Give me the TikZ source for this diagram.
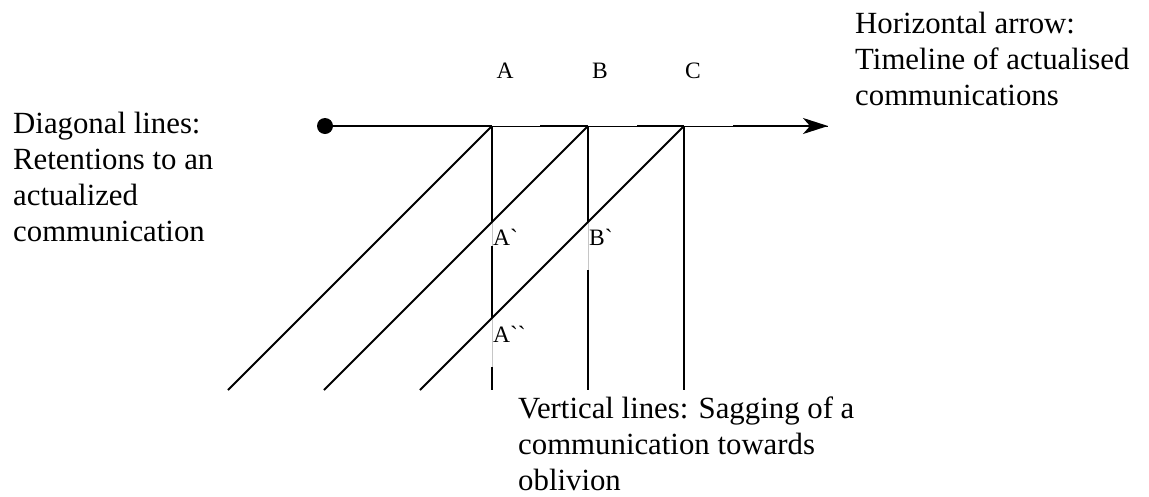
\documentclass[tikz,border=0pt]{standalone}
\usepackage{fontspec}
\setmainfont{Liberation Serif}
\usetikzlibrary{arrows.meta}
\newcommand\captxt{\fontsize{30.8}{36}\selectfont}
\newcommand\lbltxt{\fontsize{23.5}{27}\selectfont}
\tikzset{
  thickln/.style={line width=2pt, line cap=butt},
  thinln/.style={line width=0.9pt, black},
  gapln/.style={line width=0.8pt, gray!45},
  caption/.style={font=\captxt, align=left, anchor=north west, inner sep=0pt},
  lbl/.style={font=\lbltxt, inner sep=0pt},
}
\begin{document}
\begin{tikzpicture}[x=1pt,y=-1pt]
\useasboundingbox (0,0) rectangle (1149,496);
% key points
\coordinate (dot) at (325,126);
\coordinate (A) at (492,126);
\coordinate (B) at (588,126);
\coordinate (C) at (684,126);
\coordinate (arr) at (828,126);
\coordinate (A1) at (492,222);
\coordinate (B1) at (588,222);
\coordinate (A2) at (492,318);
\coordinate (A1e) at (492,246);
\coordinate (B1e) at (588,270);
\coordinate (A2e) at (492,367);
\coordinate (Abot) at (492,390);
\coordinate (Bbot) at (588,390);
\coordinate (Cbot) at (684,390);
\coordinate (dA) at (228,390);
\coordinate (dB) at (324,390);
\coordinate (dC) at (420,390);
\coordinate (hA) at (540,126);
\coordinate (hB) at (637,126);
\coordinate (hC) at (733,126);
% horizontal timeline
\draw[thinln] (A) -- (arr);
\draw[thickln] (dot) -- (A);
\draw[thickln] (hA) -- (B);
\draw[thickln] (hB) -- (C);
\draw[thickln, -{Stealth[length=25pt,width=16pt,inset=7pt]}] (hC) -- (arr);
\fill (dot) circle (8pt);
% vertical lines
\draw[thickln] (A) -- (A1);
\draw[gapln] (A1) -- (A1e);
\draw[thickln] (A1e) -- (A2);
\draw[gapln] (A2) -- (A2e);
\draw[thickln] (A2e) -- (Abot);
\draw[thickln] (B) -- (B1);
\draw[gapln] (B1) -- (B1e);
\draw[thickln] (B1e) -- (Bbot);
\draw[thickln] (C) -- (Cbot);
% diagonal lines
\draw[thickln] (A) -- (dA);
\draw[thickln] (B) -- (dB);
\draw[thickln] (C) -- (dC);
% point labels
\node[lbl, anchor=base] (lA) at (505,78) {A};
\node[lbl, anchor=base] (lB) at (600,78) {B};
\node[lbl, anchor=base] (lC) at (693,78) {C};
\node[lbl, anchor=base west] (lA1) at (493,245) {A\textasciigrave};
\node[lbl, anchor=base west] (lB1) at (589,245) {B\textasciigrave};
\node[lbl, anchor=base west] (lA2) at (493,342) {A\textasciigrave\textasciigrave};
% captions
\node[caption] (tdiag) at (13,112) {Diagonal lines:\\Retentions to an\\actualized\\communication};
\node[caption] (thor) at (855,12) {Horizontal arrow:\\Timeline of actualised\\communications};
\node[caption] (tvert) at (518,397) {Vertical lines: Sagging of a\\communication towards\\oblivion};
\end{tikzpicture}
\end{document}
